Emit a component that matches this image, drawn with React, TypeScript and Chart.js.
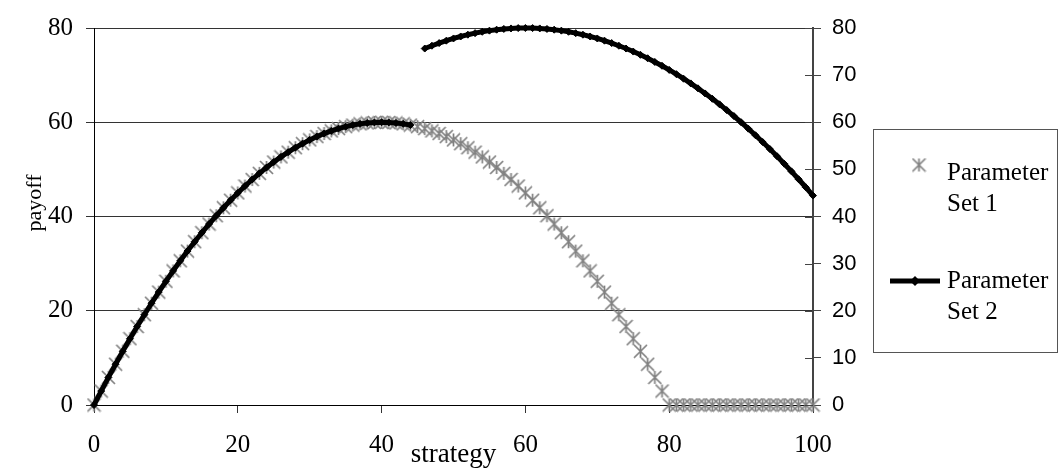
import { useEffect, useRef } from "react";
import { Chart, registerables } from "chart.js";

Chart.register(...registerables);

// ---- data ----
const strategy = [
  0, 1, 2, 3, 4, 5, 6, 7, 8, 9, 10, 11, 12, 13, 14, 15, 16, 17, 18, 19, 20,
  21, 22, 23, 24, 25, 26, 27, 28, 29, 30, 31, 32, 33, 34, 35, 36, 37, 38, 39, 40,
  41, 42, 43, 44, 45, 46, 47, 48, 49, 50, 51, 52, 53, 54, 55, 56, 57, 58, 59, 60,
  61, 62, 63, 64, 65, 66, 67, 68, 69, 70, 71, 72, 73, 74, 75, 76, 77, 78, 79, 80,
  81, 82, 83, 84, 85, 86, 87, 88, 89, 90, 91, 92, 93, 94, 95, 96, 97, 98, 99, 100,
];

const set1Payoff = [
  0, 2.96, 5.85, 8.66, 11.4, 14.06, 16.65, 19.16, 21.6, 23.96, 26.25,
  28.46, 30.6, 32.66, 34.65, 36.56, 38.4, 40.16, 41.85, 43.46, 45,
  46.46, 47.85, 49.16, 50.4, 51.56, 52.65, 53.66, 54.6, 55.46, 56.25,
  56.96, 57.6, 58.16, 58.65, 59.06, 59.4, 59.66, 59.85, 59.96, 60,
  59.96, 59.85, 59.66, 59.4, 59.06, 58.65, 58.16, 57.6, 56.96, 56.25,
  55.46, 54.6, 53.66, 52.65, 51.56, 50.4, 49.16, 47.85, 46.46, 45,
  43.46, 41.85, 40.16, 38.4, 36.56, 34.65, 32.66, 30.6, 28.46, 26.25,
  23.96, 21.6, 19.16, 16.65, 14.06, 11.4, 8.66, 5.85, 2.96, 0,
  0, 0, 0, 0, 0, 0, 0, 0, 0, 0,
  0, 0, 0, 0, 0, 0, 0, 0, 0, 0,
];

const set2Payoff = [
  0, 2.96, 5.85, 8.66, 11.4, 14.06, 16.65, 19.16, 21.6, 23.96, 26.25,
  28.46, 30.6, 32.66, 34.65, 36.56, 38.4, 40.16, 41.85, 43.46, 45,
  46.46, 47.85, 49.16, 50.4, 51.56, 52.65, 53.66, 54.6, 55.46, 56.25,
  56.96, 57.6, 58.16, 58.65, 59.06, 59.4, 59.66, 59.85, 59.96, 60,
  59.96, 59.85, 59.66, 59.4, null, 75.64, 76.24, 76.8, 77.31, 77.78,
  78.2, 78.58, 78.91, 79.2, 79.44, 79.64, 79.8, 79.91, 79.98, 80,
  79.98, 79.91, 79.8, 79.64, 79.44, 79.2, 78.91, 78.58, 78.2, 77.78,
  77.31, 76.8, 76.24, 75.64, 75, 74.31, 73.58, 72.8, 71.98, 71.11,
  70.2, 69.24, 68.24, 67.2, 66.11, 64.98, 63.8, 62.58, 61.31, 60,
  58.64, 57.24, 55.8, 54.31, 52.78, 51.2, 49.58, 47.91, 46.2, 44.44,
];

const seriesNames = ["Parameter Set 1", "Parameter Set 2"];
const xTitle = "strategy";
const yTitle = "payoff";

const SERIF = '"Liberation Serif", "Times New Roman", serif';
const SANS = '"Liberation Sans", Arial, sans-serif';
const GRAY = "#808080";

function makeStar(size: number, color: string) {
  const c = document.createElement("canvas");
  c.width = size;
  c.height = size;
  const g = c.getContext("2d")!;
  g.strokeStyle = color;
  g.lineWidth = 1.7;
  g.beginPath();
  g.moveTo(1, 1);
  g.lineTo(size - 1, size - 1);
  g.moveTo(size - 1, 1);
  g.lineTo(1, size - 1);
  g.moveTo(size / 2, 1);
  g.lineTo(size / 2, size - 1);
  g.stroke();
  return c;
}

function splitName(name: string): [string, string] {
  const i = name.lastIndexOf(" ", name.length - 3);
  return [name.slice(0, i), name.slice(i + 1)];
}

export default function App() {
  const ref = useRef<HTMLCanvasElement | null>(null);

  useEffect(() => {
    document.body.style.margin = "0";
    const canvas = ref.current;
    if (!canvas) return;
    const star = makeStar(15, GRAY);

    const decor = {
      id: "decor",
      afterDraw(chart: any) {
        const { ctx } = chart;
        const y2 = chart.scales.y2;
        ctx.save();
        ctx.strokeStyle = "#444";
        ctx.lineWidth = 1;
        y2.ticks.forEach((_t: any, i: number) => {
          const py = Math.round(y2.getPixelForTick(i)) + 0.5;
          ctx.beginPath();
          ctx.moveTo(y2.left - 8, py);
          ctx.lineTo(y2.left, py);
          ctx.stroke();
        });
        ctx.fillStyle = "#000";
        ctx.font = `22px ${SERIF}`;
        ctx.textAlign = "center";
        ctx.textBaseline = "middle";
        ctx.translate(35, 203);
        ctx.rotate(-Math.PI / 2);
        ctx.fillText(yTitle, 0, 0);
        ctx.restore();

        // legend
        ctx.save();
        ctx.strokeStyle = "#555";
        ctx.lineWidth = 1;
        ctx.strokeRect(873.5, 129.5, 184, 223);
        ctx.fillStyle = "#000";
        ctx.font = `25px ${SERIF}`;
        ctx.textAlign = "left";
        ctx.textBaseline = "middle";
        const [a1, b1] = splitName(seriesNames[0]);
        const [a2, b2] = splitName(seriesNames[1]);
        ctx.drawImage(star, 919 - 7.5, 165 - 7.5);
        ctx.fillText(a1, 947, 173);
        ctx.fillText(b1, 947, 204);
        ctx.strokeStyle = "#000";
        ctx.lineWidth = 5;
        ctx.beginPath();
        ctx.moveTo(890, 281);
        ctx.lineTo(940, 281);
        ctx.stroke();
        ctx.beginPath();
        ctx.moveTo(915, 276);
        ctx.lineTo(920, 281);
        ctx.lineTo(915, 286);
        ctx.lineTo(910, 281);
        ctx.closePath();
        ctx.fill();
        ctx.fillText(a2, 947, 281);
        ctx.fillText(b2, 947, 312);
        ctx.restore();
      },
    };

    const chart = new Chart(canvas, {
      type: "line",
      data: {
        datasets: [
          {
            label: seriesNames[1],
            data: strategy.map((x, i) => ({ x, y: set2Payoff[i] })),
            yAxisID: "y2",
            borderColor: "#000",
            backgroundColor: "#000",
            borderWidth: 5,
            pointStyle: "rectRot",
            pointRadius: 3.5,
            pointBorderWidth: 1,
            pointBackgroundColor: "#000",
            pointBorderColor: "#000",
            spanGaps: false,
            tension: 0,
            clip: false as any,
            order: 0,
          },
          {
            label: seriesNames[0],
            data: strategy.map((x, i) => ({ x, y: set1Payoff[i] })),
            yAxisID: "y",
            showLine: false,
            pointStyle: star as any,
            pointRadius: 7,
            borderColor: GRAY,
            backgroundColor: GRAY,
            clip: false as any,
            order: 1,
          },
        ],
      },
      options: {
        animation: false,
        responsive: false,
        layout: { padding: { top: 20, left: 0, right: 0, bottom: 0 } },
        plugins: { legend: { display: false }, tooltip: { enabled: false } },
        scales: {
          x: {
            type: "linear",
            min: 0,
            max: 100,
            ticks: {
              stepSize: 20,
              color: "#000",
              font: { family: SERIF, size: 25 },
              padding: 17,
              maxRotation: 0,
            },
            grid: { drawOnChartArea: false, tickLength: 8, color: "#333" },
            border: { color: "#000" },
            title: {
              display: true,
              text: xTitle,
              color: "#000",
              font: { family: SERIF, size: 27 },
              padding: { top: 0, bottom: 1 },
            },
            afterFit: (s: any) => {
              s.height = 67;
            },
          },
          y: {
            position: "left",
            min: 0,
            max: 80,
            ticks: {
              stepSize: 20,
              color: "#000",
              font: { family: SERIF, size: 25 },
              padding: 13,
            },
            grid: { color: "#333", tickLength: 8 },
            border: { color: "#000" },
            afterFit: (s: any) => {
              s.width = 94;
            },
          },
          y2: {
            position: "right",
            min: 0,
            max: 80,
            ticks: {
              stepSize: 10,
              color: "#000",
              font: { family: SANS, size: 22 },
              padding: 11,
            },
            grid: { drawOnChartArea: false, tickLength: 8, color: "#444" },
            border: { color: "#444", width: 2 },
            afterFit: (s: any) => {
              s.width = 246;
            },
          },
        },
      },
      plugins: [decor],
    });
    return () => chart.destroy();
  }, []);

  return (
    <div style={{ width: 1059, height: 472 }}>
      <canvas ref={ref} width={1059} height={472} style={{ display: "block" }} />
    </div>
  );
}
